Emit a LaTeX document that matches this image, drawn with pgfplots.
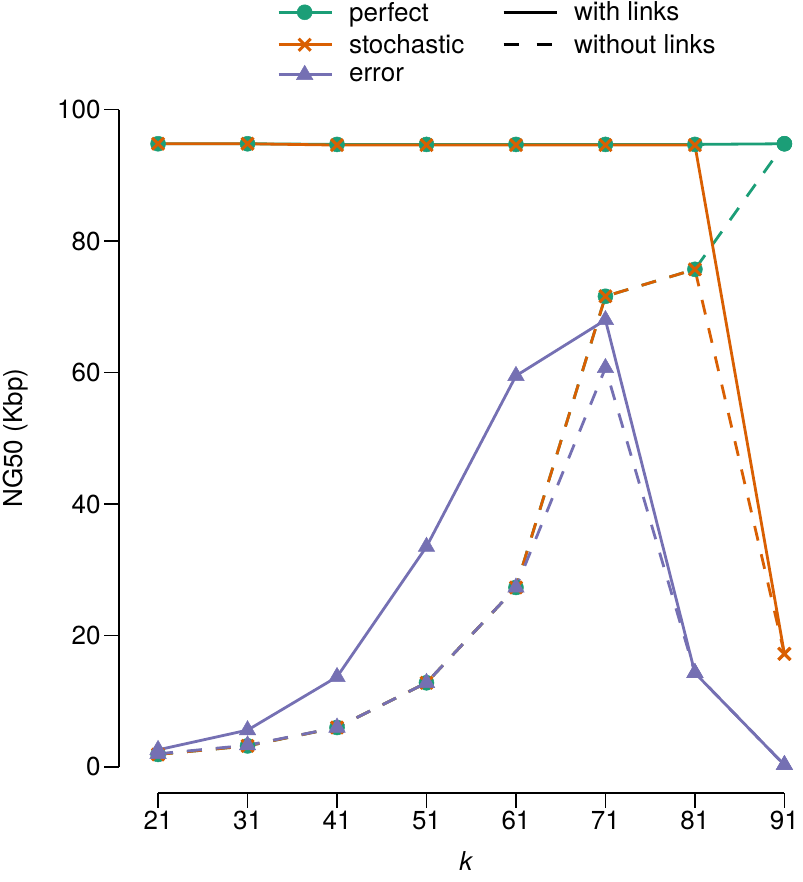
\documentclass[border=0pt]{standalone}
\usepackage{fontspec}
\setmainfont{TeX Gyre Heros}
\usepackage{pgfplots}
\pgfplotsset{compat=1.18}
\definecolor{cA}{HTML}{1B9E77}
\definecolor{cB}{HTML}{D95F02}
\definecolor{cC}{HTML}{7570B3}
\newcommand{\fs}{\fontsize{26}{31}\selectfont}
\begin{document}
\begin{tikzpicture}
\begin{axis}[
 scale only axis, width=626pt, height=657pt,
 xmin=21, xmax=91, ymin=0, ymax=100,
 axis lines=left, axis line style={-, line width=1.6pt},
 axis x line shift=26pt, axis y line shift=39pt,
 xtick={21,31,...,91}, ytick={0,20,...,100},
 tick align=outside, major tick length=15pt,
 tick style={line width=1.6pt, black},
 /pgf/number format/assume math mode=true,
 ticklabel style={font=\fs},
 clip=false,
 xlabel={\textit{k}\rule[-11pt]{0pt}{1pt}}, ylabel={NG50 (Kbp)},
 every axis x label/.style={at={(axis description cs:0.492,-0.1583)},anchor=base,inner sep=0pt,font=\fs},
 every axis y label/.style={at={(axis description cs:-0.227,0.5)},anchor=center,rotate=90,font=\fs},
 legend columns=2,
 legend cell align=left,
 legend style={draw=none, fill=none, inner sep=0pt, font=\fs, at={(axis description cs:0.19,1.167)}, anchor=north west, /tikz/every even column/.append style={column sep=36pt}, /tikz/every odd column/.append style={column sep=14pt}, row sep=8pt},
 legend image code/.code={\draw[mark repeat=2,mark phase=2,#1] plot coordinates {(0pt,0pt) (26pt,0pt) (53pt,0pt)};},
 every axis plot/.append style={line width=2.8pt},
]
% perfect
\addplot[cA, mark=*, mark size=7.5pt, mark options={solid, line width=0.5pt}, forget plot] coordinates {(21,94.8)(31,94.8)(41,94.7)(51,94.7)(61,94.7)(71,94.7)(81,94.7)(91,94.8)};
\addplot[cA, dash pattern=on 15pt off 14pt, mark=*, mark size=7.5pt, mark options={solid, line width=0.5pt}, forget plot] coordinates {(21,1.9)(31,3.2)(41,6.0)(51,12.8)(61,27.3)(71,71.6)(81,75.7)(91,94.8)};
% stochastic
\addplot[cB, mark=x, mark size=8.5pt, mark options={solid, line width=3pt}, forget plot] coordinates {(21,94.8)(31,94.8)(41,94.6)(51,94.6)(61,94.6)(71,94.6)(81,94.6)(91,17.2)};
\addplot[cB, dash pattern=on 15pt off 14pt, mark=x, mark size=8.5pt, mark options={solid, line width=3pt}, forget plot] coordinates {(21,1.9)(31,3.2)(41,6.0)(51,12.8)(61,27.3)(71,71.6)(81,75.7)(91,17.2)};
% error
\addplot[cC, mark=triangle*, mark size=9.5pt, mark options={solid, line width=0.5pt}, forget plot] coordinates {(21,2.6)(31,5.6)(41,13.7)(51,33.5)(61,59.5)(71,68.0)(81,14.3)(91,0.3)};
\addplot[cC, dash pattern=on 15pt off 14pt, mark=triangle*, mark size=9.5pt, mark options={solid, line width=0.5pt}, forget plot] coordinates {(21,2.0)(31,3.3)(41,6.0)(51,12.8)(61,27.3)(71,60.7)(81,14.3)(91,0.3)};
% legend
\addlegendimage{cA, line width=2.8pt, mark=*, mark size=7.5pt, mark options={line width=0.5pt}}
\addlegendentry{perfect}
\addlegendimage{black, line width=2.8pt}
\addlegendentry{with links}
\addlegendimage{cB, line width=2.8pt, mark=x, mark size=8.5pt, mark options={line width=3pt}}
\addlegendentry{stochastic}
\addlegendimage{black, line width=2.8pt, dash pattern=on 15pt off 18pt}
\addlegendentry{without links}
\addlegendimage{cC, line width=2.8pt, mark=triangle*, mark size=9.5pt, mark options={line width=0.5pt}}
\addlegendentry{error}
\end{axis}
\end{tikzpicture}
\end{document}
